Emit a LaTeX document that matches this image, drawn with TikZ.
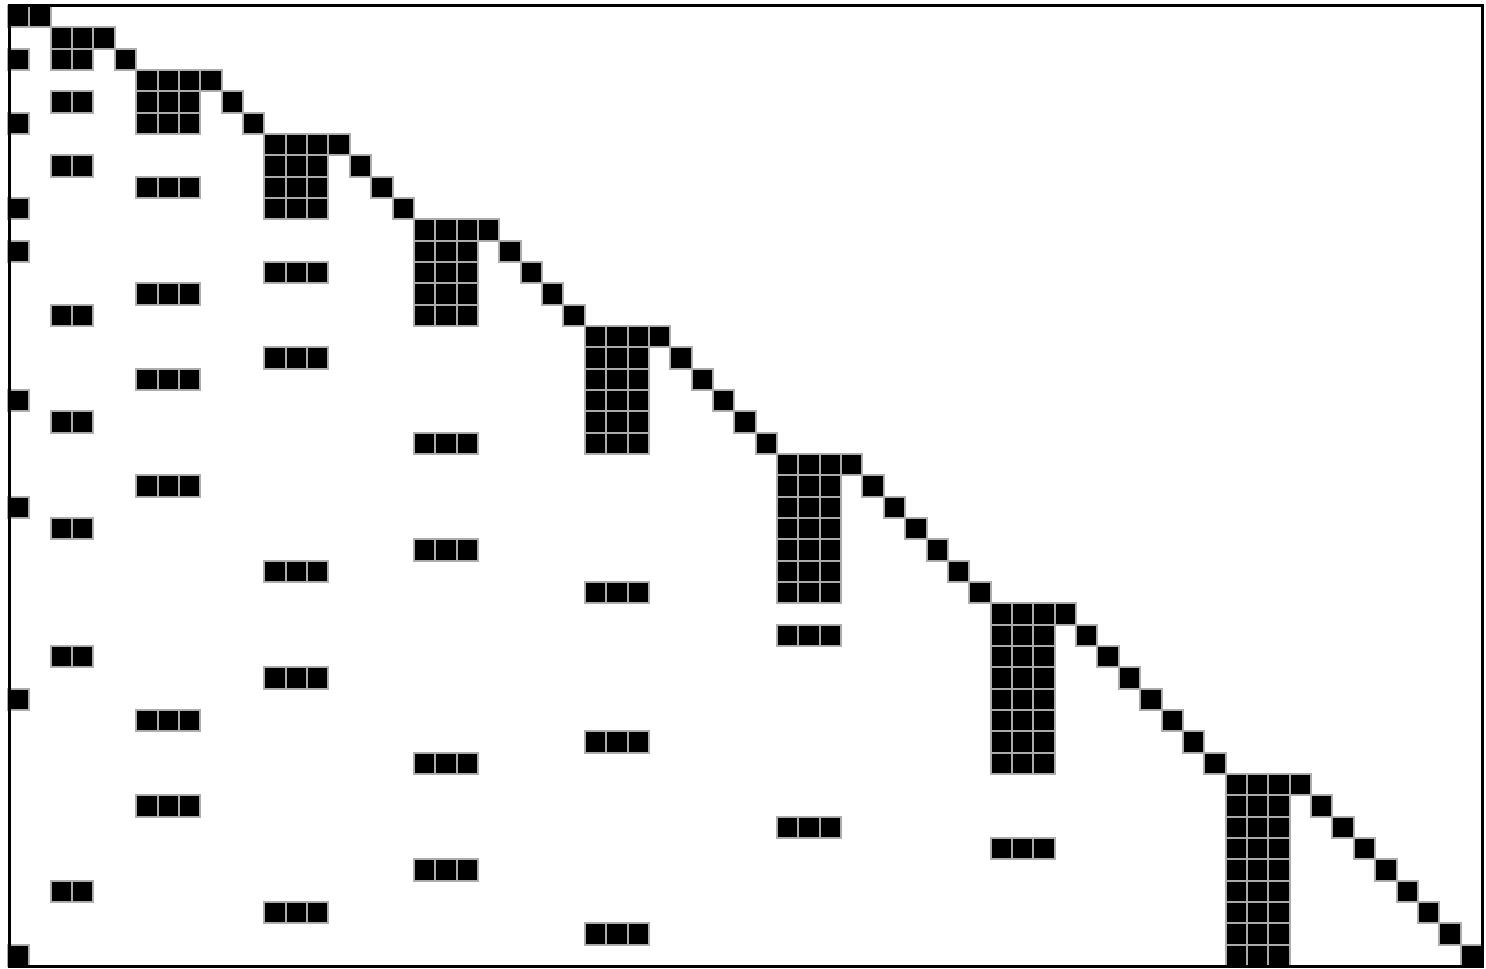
\documentclass[tikz,border=0pt]{standalone}
\begin{document}
\begin{tikzpicture}[x=0.5pt,y=-0.5pt]
\tikzset{cellbox/.style={fill=black,draw=gray!65,line width=1pt},
         framebox/.style={draw=black,line width=1.5pt}}
\useasboundingbox (0,0) rectangle (1486,968);
\fill[white] (0,0) rectangle (1486,968);
\begin{scope}[xshift=4pt,yshift=-3pt,x=10.681pt,y=-10.6667pt]
\foreach \r/\a/\b in {
0/0/1,
1/2/4,
2/0/0, 2/2/3, 2/5/5,
3/6/9,
4/2/3, 4/6/8, 4/10/10,
5/0/0, 5/6/8, 5/11/11,
6/12/15,
7/2/3, 7/12/14, 7/16/16,
8/6/8, 8/12/14, 8/17/17,
9/0/0, 9/12/14, 9/18/18,
10/19/22,
11/0/0, 11/19/21, 11/23/23,
12/12/14, 12/19/21, 12/24/24,
13/6/8, 13/19/21, 13/25/25,
14/2/3, 14/19/21, 14/26/26,
15/27/30,
16/12/14, 16/27/29, 16/31/31,
17/6/8, 17/27/29, 17/32/32,
18/0/0, 18/27/29, 18/33/33,
19/2/3, 19/27/29, 19/34/34,
20/19/21, 20/27/29, 20/35/35,
21/36/39,
22/6/8, 22/36/38, 22/40/40,
23/0/0, 23/36/38, 23/41/41,
24/2/3, 24/36/38, 24/42/42,
25/19/21, 25/36/38, 25/43/43,
26/12/14, 26/36/38, 26/44/44,
27/27/29, 27/36/38, 27/45/45,
28/46/49,
29/36/38, 29/46/48, 29/50/50,
30/2/3, 30/46/48, 30/51/51,
31/12/14, 31/46/48, 31/52/52,
32/0/0, 32/46/48, 32/53/53,
33/6/8, 33/46/48, 33/54/54,
34/27/29, 34/46/48, 34/55/55,
35/19/21, 35/46/48, 35/56/56,
36/57/60,
37/6/8, 37/57/59, 37/61/61,
38/36/38, 38/57/59, 38/62/62,
39/46/48, 39/57/59, 39/63/63,
40/19/21, 40/57/59, 40/64/64,
41/2/3, 41/57/59, 41/65/65,
42/12/14, 42/57/59, 42/66/66,
43/27/29, 43/57/59, 43/67/67,
44/0/0, 44/57/59, 44/68/68}
{
  \foreach \c in {\a,...,\b} {
    \draw[cellbox] (\c,\r) rectangle ++(1,1);
  }
}
\end{scope}
\draw[framebox] (9,6) rectangle (1482,966);
\end{tikzpicture}
\end{document}
